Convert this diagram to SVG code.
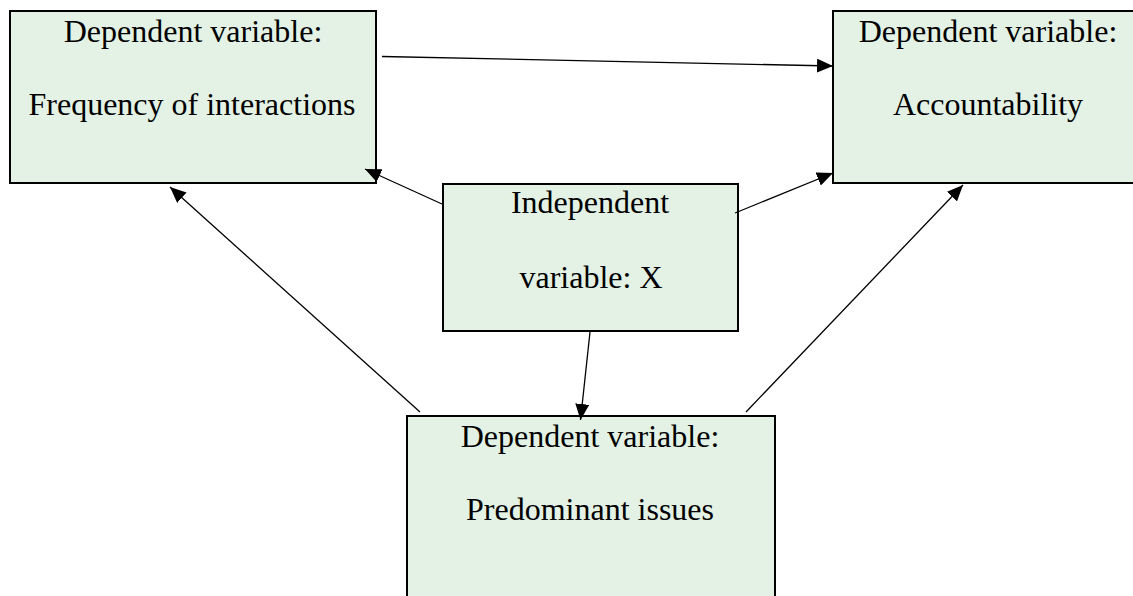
<svg xmlns="http://www.w3.org/2000/svg" width="1133" height="596" viewBox="0 0 1133 596">
<style>
.box{fill:#e3f2e4;stroke:#000;stroke-width:2}
.t{font-family:"Liberation Serif","Times New Roman",serif;font-size:32px;fill:#000;text-anchor:middle}
.c{stroke:#000;stroke-width:1.3;fill:none;marker-end:url(#ah)}
</style>
<defs>
<marker id="ah" markerUnits="userSpaceOnUse" markerWidth="16" markerHeight="14" refX="16" refY="7" orient="auto">
<path d="M0,0 L16,7 L0,14 z" fill="#000"/>
</marker>
</defs>
<rect width="1133" height="596" fill="#fff"/>
<g id="freq">
<rect class="box" x="10" y="11" width="366" height="172"/>
<text class="t" x="193" y="42">Dependent variable:</text>
<text class="t" x="192" y="115">Frequency of interactions</text>
</g>
<g id="acc">
<rect class="box" x="833" y="11" width="320" height="172"/>
<text class="t" x="988" y="42">Dependent variable:</text>
<text class="t" x="988" y="115">Accountability</text>
</g>
<g id="indep">
<rect class="box" x="443" y="184" width="295" height="147"/>
<text class="t" x="590" y="213">Independent</text>
<text class="t" x="591" y="288">variable: X</text>
</g>
<g id="issues">
<rect class="box" x="407" y="416" width="368" height="190"/>
<text class="t" x="590" y="447">Dependent variable:</text>
<text class="t" x="590" y="520">Predominant issues</text>
</g>
<g id="connectors">
<line class="c" x1="382" y1="56.5" x2="833" y2="66"/>
<line class="c" x1="442" y1="204" x2="365" y2="169"/>
<line class="c" x1="735" y1="213" x2="833" y2="173"/>
<line class="c" x1="590" y1="332" x2="580.5" y2="420"/>
<line class="c" x1="420" y1="412" x2="170" y2="187"/>
<line class="c" x1="746" y1="412" x2="963" y2="185"/>
</g>
</svg>
